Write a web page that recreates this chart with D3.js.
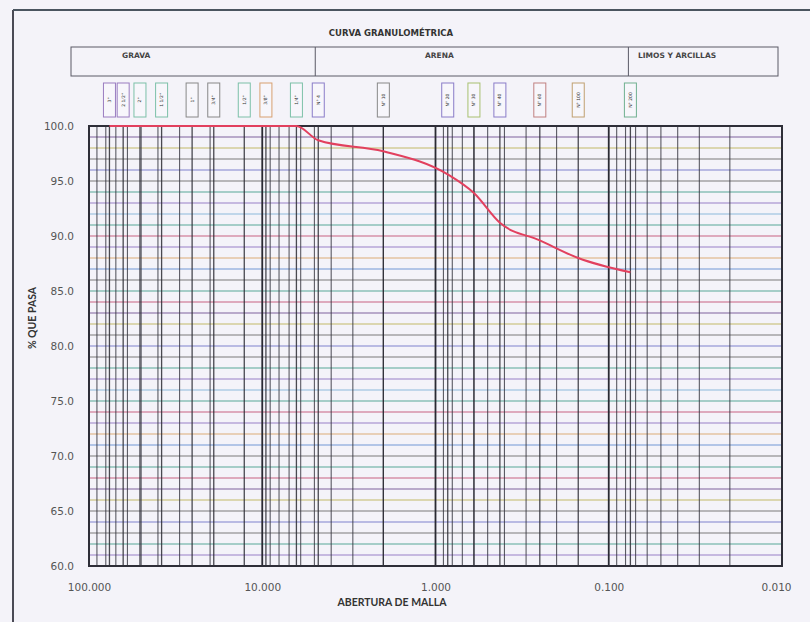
<!DOCTYPE html>
<html>
<head>
<meta charset="utf-8">
<script src="https://cdn.jsdelivr.net/npm/d3@7"></script>
<style>
  body { margin: 0; background: #f4f3f9; }
  svg { display: block; }
</style>
</head>
<body>
<div id="chart"></div>
<script>
// sieve series (opening in mm, % passing)
var sieveLabels = ['3"', '2 1/2"', '2"', '1 1/2"', '1"', '3/4"', '1/2"', '3/8"', '1/4"',
    'N° 4', 'N° 10', 'N° 20', 'N° 30', 'N° 40', 'N° 60', 'N° 100', 'N° 200']
var sieveOpenings = [76.2, 63.5, 50.8, 38.1, 25.4, 19.05, 12.7, 9.525, 6.35,
    4.75, 2.0, 0.85, 0.6, 0.425, 0.25, 0.15, 0.075]
var percentPassing = [100, 100, 100, 100, 100, 100, 100, 100, 100,
    98.7, 97.7, 95.6, 93.9, 91.2, 89.6, 88.0, 86.7]

var xTicks = [100, 10, 1, 0.1, 0.01]
var yTicks = [60, 65, 70, 75, 80, 85, 90, 95, 100]
var zoneNames = ['GRAVA', 'ARENA', 'LIMOS Y ARCILLAS']
var zoneLimits = [4.75, 0.075]   // grava | arena | limos

var W = 810, H = 622
var m = {left: 89, right: 782, top: 126, bottom: 566}

var svg = d3.select('#chart').append('svg')
    .attr('width', W).attr('height', H)

svg.append('rect').attr('width', W).attr('height', H).attr('fill', '#f4f3f9')

var x = d3.scaleLog().domain([100, 0.01]).range([m.left, m.right])
var y = d3.scaleLinear().domain([60, 100]).range([m.bottom, m.top])

// outer frame of the sheet
svg.append('line').attr('x1', 13).attr('x2', 13).attr('y1', 10).attr('y2', H)
    .attr('stroke', '#4a4a55').attr('stroke-width', 2)
svg.append('line').attr('x1', 13).attr('x2', W).attr('y1', 10).attr('y2', 10)
    .attr('stroke', '#4a5560').attr('stroke-width', 2)

// title
svg.append('text').attr('x', 391).attr('y', 36)
    .attr('text-anchor', 'middle')
    .style('font', 'bold 8.5px "DejaVu Sans"').attr('fill', '#333')
    .text('CURVA GRANULOMÉTRICA')

// zone header box
var zx = [71, x(zoneLimits[0]) - 3, x(zoneLimits[1]) - 2, 778]
var zoneTextX = [122, 425, 638]
var hdr = svg.append('g')
hdr.append('rect').attr('x', zx[0]).attr('y', 47).attr('width', zx[3] - zx[0]).attr('height', 29)
    .attr('fill', 'none').attr('stroke', '#5a5a66').attr('stroke-width', 1)
hdr.selectAll('.div').data([zx[1], zx[2]]).enter().append('line')
    .attr('x1', d => d).attr('x2', d => d).attr('y1', 47).attr('y2', 76)
    .attr('stroke', '#5a5a66')
hdr.selectAll('.zname').data(zoneNames).enter().append('text')
    .attr('x', (d, i) => zoneTextX[i]).attr('y', 58)
    .style('font', 'bold 7.5px "DejaVu Sans"').attr('fill', '#444')
    .text(d => d)

// sieve label boxes
var boxColors = ['#9a7cc0', '#9a7cc0', '#7cc0a8', '#7cc0a8', '#888', '#888', '#7cc0a8', '#d8a070',
    '#7cc0a8', '#8a7cc8', '#888', '#8a7cc8', '#a8c070', '#8a7cc8', '#c08080', '#c0a070', '#70b090']
var boxes = svg.selectAll('.sbox').data(sieveOpenings).enter().append('g')
    .attr('class', 'sbox')
    .attr('transform', d => 'translate(' + x(d) + ',0)')
boxes.append('rect').attr('x', -6).attr('y', 83).attr('width', 12).attr('height', 34)
    .attr('fill', '#f7f6fb').attr('stroke', (d, i) => boxColors[i]).attr('stroke-width', 1)
boxes.append('text')
    .attr('transform', 'translate(1.5,100) rotate(-90)')
    .attr('text-anchor', 'middle')
    .style('font', '4.5px "DejaVu Sans"').attr('fill', '#333')
    .text((d, i) => sieveLabels[i])

// horizontal grid, one line per 1 %
var hColors = ['#8a6cc0', '#3c9a8a', '#666', '#6a70c8', '#666', '#b8b050', '#6a4a90', '#c04a70',
    '#3c9a8a', '#666', '#5a8ad0', '#d8a060', '#8a6cc0', '#c04a70', '#3c9a8a', '#7ab0d8']
var grid = svg.append('g')
grid.selectAll('.h').data(d3.range(61, 100)).enter().append('line')
    .attr('x1', m.left).attr('x2', m.right)
    .attr('y1', d => y(d)).attr('y2', d => y(d))
    .attr('stroke', (d, i) => hColors[i % hColors.length])
    .attr('stroke-opacity', 0.85).attr('stroke-width', 1.1)

// vertical grid: log minors, sieve lines, decades
var minors = x.ticks().filter(d => xTicks.indexOf(d) < 0)
grid.selectAll('.vm').data(minors).enter().append('line')
    .attr('x1', d => x(d)).attr('x2', d => x(d)).attr('y1', m.top).attr('y2', m.bottom)
    .attr('stroke', '#33333d').attr('stroke-opacity', 0.8).attr('stroke-width', 1.1)
grid.selectAll('.vs').data(sieveOpenings).enter().append('line')
    .attr('x1', d => x(d)).attr('x2', d => x(d)).attr('y1', m.top).attr('y2', m.bottom)
    .attr('stroke', '#2a2a33').attr('stroke-opacity', 0.85).attr('stroke-width', 1.3)
grid.selectAll('.vd').data(xTicks).enter().append('line')
    .attr('x1', d => x(d)).attr('x2', d => x(d)).attr('y1', m.top).attr('y2', m.bottom)
    .attr('stroke', '#2a2a33').attr('stroke-width', 1.8)

// plot border
svg.append('rect').attr('x', m.left).attr('y', m.top)
    .attr('width', m.right - m.left).attr('height', m.bottom - m.top)
    .attr('fill', 'none').attr('stroke', '#2e2e38').attr('stroke-width', 2)

// curve
var pts = sieveOpenings.map((d, i) => [d, percentPassing[i]])
var line = d3.line().x(d => x(d[0])).y(d => y(d[1])).curve(d3.curveMonotoneX)
svg.append('path').datum(pts).attr('d', line)
    .attr('fill', 'none').attr('stroke', '#e2405e').attr('stroke-width', 2)

// axes
var xAxis = svg.append('g').attr('transform', 'translate(0,' + (m.bottom + 22) + ')')
    .call(d3.axisBottom(x).tickValues(xTicks).tickFormat(d3.format('.3f')).tickSize(0))
var yAxis = svg.append('g').attr('transform', 'translate(' + (m.left - 12) + ',0)')
    .call(d3.axisLeft(y).tickValues(yTicks).tickFormat(d3.format('.1f')).tickSize(0))
;[xAxis, yAxis].forEach(function(a) {
    a.select('.domain').remove()
    a.selectAll('text').style('font', '10.5px "DejaVu Sans"').attr('fill', '#555')
})
xAxis.selectAll('text').attr('dy', 0)
xAxis.selectAll('.tick').filter(d => d === 0.01).select('text').attr('dx', -6)

svg.append('text').attr('x', 392).attr('y', 606).attr('text-anchor', 'middle')
    .style('font', 'bold 10.5px Lato').attr('fill', '#333')
    .text('ABERTURA DE MALLA')
svg.append('text').attr('transform', 'translate(36,318) rotate(-90)').attr('text-anchor', 'middle')
    .style('font', 'bold 10.5px Lato').attr('fill', '#333')
    .text('% QUE PASA')
</script>
</body>
</html>
